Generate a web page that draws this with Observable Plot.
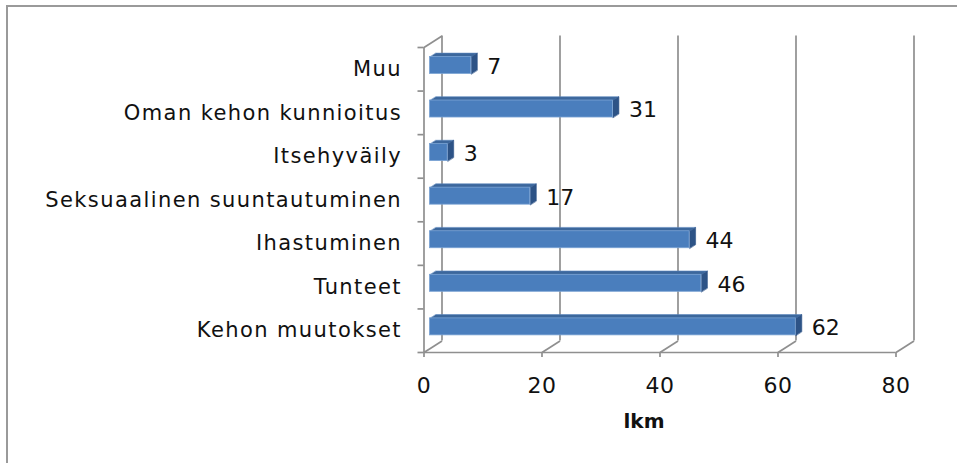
<!DOCTYPE html>
<html>
<head>
<meta charset="utf-8">
<script src="https://cdn.jsdelivr.net/npm/d3@7"></script>
<script src="https://cdn.jsdelivr.net/npm/@observablehq/plot@0.6"></script>
<style>
  html, body { margin: 0; padding: 0; background: #fff; }
  #wrap { position: relative; width: 957px; height: 463px; overflow: hidden; }
  #border { position: absolute; left: 6px; top: 5px; right: -10px; bottom: -10px;
            border-top: 2px solid #9a9a9a; border-left: 2px solid #9a9a9a; pointer-events: none; }
  g[aria-label="y-axis tick label"] text { letter-spacing: 1.4px; }
  g[aria-label="x-axis tick label"] text { letter-spacing: 0.5px; }
</style>
</head>
<body>
<div id="wrap"><div id="border"></div></div>
<script>
// Categories listed bottom to top
const categories = ["Kehon muutokset", "Tunteet", "Ihastuminen", "Seksuaalinen suuntautuminen", "Itsehyväily", "Oman kehon kunnioitus", "Muu"];
const values = [62, 46, 44, 17, 3, 31, 7];
const xTicks = [0, 20, 40, 60, 80];
const axisTitle = "lkm";

// 3D depth of the chart box, in data units (x units, y category units)
const DX = 3.05, DY = 0.264;
const H = 0.195; // half bar thickness in category units

const rows = categories.map((c, i) => ({c, i, v: values[i]}));

const topPts = [], sidePts = [];
rows.forEach(d => {
  const yc = d.i + 0.5;
  const yt1 = yc + H + DY / 3, yt2 = yc + H + 2 * DY / 3;
  const yb1 = yc - H + DY / 3, yb2 = yc - H + 2 * DY / 3;
  topPts.push({k: d.c, x: DX / 3, y: yt1}, {k: d.c, x: d.v + DX / 3, y: yt1},
              {k: d.c, x: d.v + 2 * DX / 3, y: yt2}, {k: d.c, x: 2 * DX / 3, y: yt2});
  sidePts.push({k: d.c, x: d.v + DX / 3, y: yb1}, {k: d.c, x: d.v + DX / 3, y: yt1},
               {k: d.c, x: d.v + 2 * DX / 3, y: yt2}, {k: d.c, x: d.v + 2 * DX / 3, y: yb2});
});

const gridColor = "#8f8f8f";
const textColor = "#111";
const fs = 21;

const chart = Plot.plot({
  width: 957,
  height: 463,
  marginLeft: 423.5,
  marginRight: 61.5,
  marginTop: 47,
  marginBottom: 111,
  style: {fontFamily: "'DejaVu Sans', sans-serif", background: "transparent", color: textColor},
  x: {domain: [0, 80], axis: null},
  y: {domain: [0, categories.length], axis: null},
  marks: [
    // back wall gridlines
    Plot.ruleX(xTicks, {x: d => d + DX, y1: DY, y2: categories.length + DY, stroke: gridColor, strokeWidth: 1.7}),
    // floor diagonals
    Plot.link(xTicks, {x1: d => d, y1: 0, x2: d => d + DX, y2: DY, stroke: gridColor, strokeWidth: 1.7}),
    // left wall front edge + top diagonal
    Plot.ruleX([0], {y1: 0, y2: categories.length, stroke: gridColor, strokeWidth: 1.7}),
    Plot.link([0], {x1: 0, y1: categories.length, x2: DX, y2: categories.length + DY, stroke: gridColor, strokeWidth: 1.7}),
    // floor front edge
    Plot.ruleY([0], {x1: 0, x2: 80, stroke: gridColor, strokeWidth: 1.7}),
    // axes
    Plot.axisX(xTicks, {tickSize: 5, tickPadding: 20, fontSize: 22, label: null, stroke: gridColor, strokeWidth: 1.7, fill: textColor}),
    Plot.axisY(d3.range(categories.length + 1), {tickSize: 6, tickFormat: () => "", label: null, stroke: gridColor, strokeWidth: 1.7}),
    Plot.axisY(d3.range(categories.length).map(i => i + 0.5), {tickSize: 0, tickPadding: 22, fontSize: fs, label: null,
      tickFormat: d => categories[Math.floor(d)], fill: textColor}),
    // bars (3D)
    Plot.line(topPts, {x: "x", y: "y", z: "k", fill: "#3c679c", stroke: "#5a86bd", strokeWidth: 0.6, curve: "linear-closed"}),
    Plot.line(sidePts, {x: "x", y: "y", z: "k", fill: "#2d5386", stroke: "#2d5386", strokeWidth: 0.6, curve: "linear-closed"}),
    Plot.rect(rows, {x1: DX / 3, x2: d => d.v + DX / 3, y1: d => d.i + 0.5 - H + DY / 3, y2: d => d.i + 0.5 + H + DY / 3,
      fill: "#4a7ebd", stroke: "#7aa3d4", strokeWidth: 0.8}),
    // value labels
    Plot.text(rows, {x: "v", y: d => d.i + 0.5, text: d => String(d.v), dx: 22, dy: -2.5, textAnchor: "start", fontSize: 22, fill: textColor}),
    // axis title
    Plot.text([axisTitle], {frameAnchor: "bottom", dx: -16, dy: 75, fontWeight: "bold", fontSize: 20, fill: textColor})
  ]
});
document.getElementById("wrap").prepend(chart);
</script>
</body>
</html>
